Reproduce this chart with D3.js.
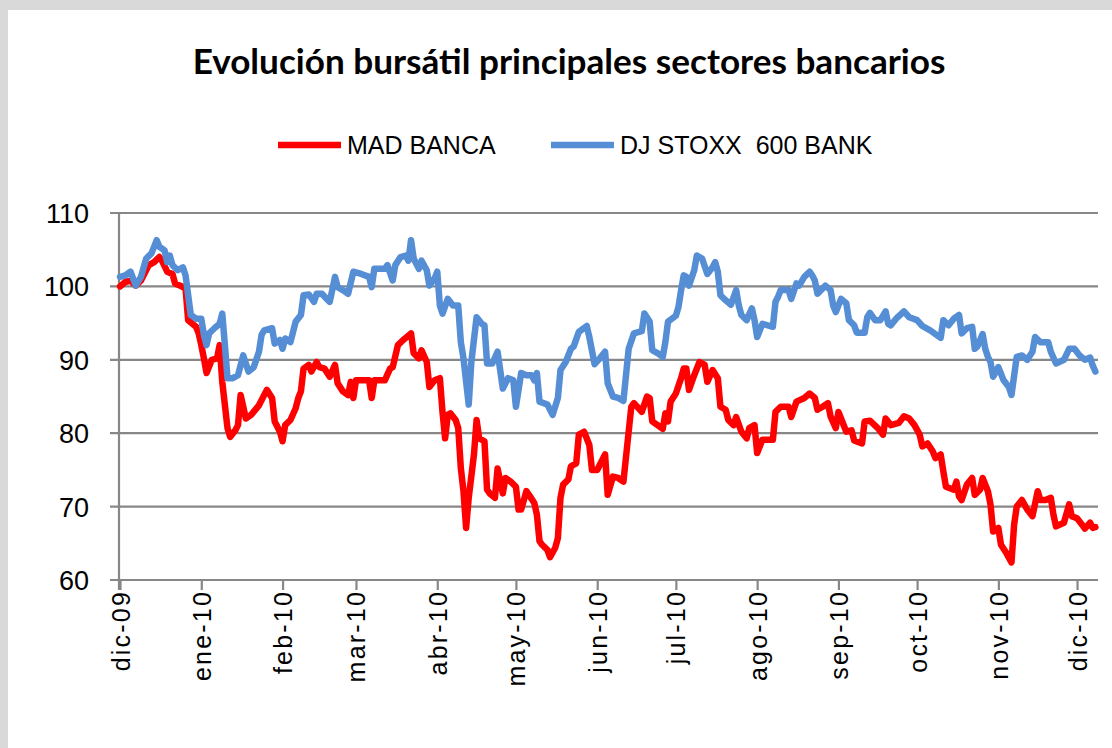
<!DOCTYPE html>
<html><head><meta charset="utf-8">
<script src="https://cdn.jsdelivr.net/npm/d3@7"></script>
<style>
html,body{margin:0;padding:0;background:#d9d9d9;}
svg{display:block;}
text{font-family:"Liberation Sans",Arial,sans-serif;fill:#000;}
</style></head>
<body>
<svg id="chart" width="1112" height="748"></svg>
<script>
// ---- data (days counted from 1 Dec 2009) ----
const titleText = "Evolución bursátil principales sectores bancarios";
const seriesNames = ["MAD BANCA", "DJ STOXX  600 BANK"];
const seriesColors = ["#ff0000", "#558ed5"];
const yTicks = [60, 70, 80, 90, 100, 110];
const monthLabels = ["dic-09","ene-10","feb-10","mar-10","abr-10","may-10","jun-10","jul-10","ago-10","sep-10","oct-10","nov-10","dic-10"];

const madDays = [0,2,4,6,8,11,13,15,16,18,20,21,23,25,26,29,30,31,32,33,35,37,38,39,41,42,44,45,46,48,50,53,56,58,59,61,62,63,65,67,68,69,70,72,73,75,76,78,80,82,83,85,87,88,89,90,95,96,97,101,103,104,106,108,111,112,114,115,117,118,120,122,123,124,125,126,128,129,130,131,132,133,135,136,137,139,140,141,143,144,146,147,149,151,152,153,155,156,158,159,160,161,163,164,166,167,168,169,171,172,174,175,177,179,180,182,185,186,188,190,192,194,195,196,199,201,202,203,205,207,208,209,210,212,214,215,216,217,219,221,223,224,226,228,229,231,232,234,235,237,239,240,242,243,245,249,250,252,255,256,258,261,263,265,266,268,270,271,273,274,275,277,279,280,283,284,286,289,291,292,294,297,299,301,303,305,306,308,310,311,313,314,315,318,319,320,321,323,325,326,328,329,331,332,333,335,336,338,340,341,342,344,346,348,350,351,353,355,356,357,360,362,363,365,367,368,370,371,372];
const madValues = [100.0,100.6,100.8,100.1,100.8,102.9,103.3,104.0,103.5,102.0,101.7,100.4,100.1,99.7,95.4,94.5,93.6,92.0,90.2,88.2,90.0,90.2,92.0,87.0,80.7,79.5,80.4,81.1,85.2,82.0,82.5,83.8,85.9,84.8,81.6,80.2,78.9,81.1,81.8,83.4,84.8,85.7,88.8,89.3,88.4,89.7,89.0,88.8,87.7,89.3,86.8,85.7,85.2,87.0,84.8,87.2,87.2,84.8,87.2,87.2,88.8,89.0,92.0,92.7,93.6,90.9,90.2,91.3,89.7,86.3,87.2,87.5,82.9,79.3,82.5,82.7,81.8,80.7,75.2,72.1,67.1,71.2,77.1,81.8,79.3,78.9,72.3,71.8,71.2,75.2,71.8,73.9,73.4,72.7,69.6,69.6,72.1,71.6,70.5,68.9,65.3,64.8,64.1,63.1,64.4,65.7,71.2,73.0,73.7,75.5,75.9,79.8,80.2,78.4,75.0,75.0,77.1,71.6,74.1,73.9,73.4,80.2,83.6,84.1,82.9,85.0,84.8,81.6,81.1,80.6,82.7,81.6,84.3,85.4,87.5,88.8,88.8,85.9,87.9,89.7,89.3,87.0,88.6,87.5,83.6,83.2,81.8,81.1,82.2,80.2,79.3,80.7,81.1,77.3,79.1,79.1,82.9,83.6,83.6,82.2,84.3,84.8,85.4,84.8,83.2,83.6,84.1,82.3,80.7,82.9,82.0,80.2,80.4,79.0,78.6,81.6,81.7,80.7,79.8,82.0,81.1,81.4,82.3,82.0,81.1,79.8,78.2,78.6,77.5,76.6,77.1,74.8,72.7,72.3,73.4,71.4,70.9,73.0,73.9,71.6,72.3,73.9,72.1,70.3,66.6,67.1,64.8,63.7,62.4,67.5,70.0,70.9,69.6,68.7,72.1,70.9,70.9,71.2,68.9,67.3,67.8,70.3,68.7,68.4,67.5,67.0,67.8,67.1,67.2];

const stoxxDays = [0,2,4,6,8,10,12,14,15,17,18,19,20,22,24,25,27,29,31,32,33,34,36,38,39,40,41,43,45,47,49,51,53,54,55,58,59,61,62,63,65,67,69,70,72,74,75,77,78,80,82,83,85,87,89,92,95,96,97,101,102,104,105,107,109,110,111,112,114,115,117,118,120,121,122,123,125,127,129,130,131,133,134,136,138,139,140,142,144,146,148,150,151,153,155,157,158,159,160,163,165,167,168,170,172,173,175,178,179,181,183,185,186,188,190,192,194,196,199,200,202,203,205,207,208,209,212,213,214,215,216,217,219,220,222,224,226,227,228,229,231,233,235,236,237,239,241,242,243,245,249,250,251,252,255,256,258,259,261,263,264,265,266,269,271,272,273,275,277,278,280,281,284,285,286,288,290,292,293,294,296,299,301,304,306,309,311,313,314,316,318,320,321,323,325,326,327,329,330,331,332,333,335,337,339,340,342,344,346,348,349,351,354,355,357,360,362,364,366,368,370,371,372];
const stoxxValues = [101.3,101.5,102.0,100.1,101.3,103.8,104.5,106.3,105.4,104.9,103.3,104.2,102.9,102.2,102.6,101.5,96.1,95.6,95.6,93.4,92.0,93.6,94.3,94.9,96.3,92.0,87.5,87.5,87.9,90.6,88.4,89.0,91.1,93.4,94.0,94.3,92.2,92.7,91.5,92.9,92.4,95.2,96.1,98.8,98.9,97.9,99.0,99.0,98.6,97.9,101.3,99.9,99.5,99.0,102.0,101.7,101.3,99.9,102.4,102.4,102.9,100.8,102.9,104.0,104.2,103.5,106.3,103.8,102.4,103.5,102.2,100.1,101.1,102.0,97.4,96.3,98.3,97.4,97.4,92.4,90.2,83.9,89.7,95.8,94.9,94.7,89.5,89.5,91.1,86.1,87.5,87.2,83.6,88.2,87.9,87.9,87.2,88.2,84.3,83.9,82.5,84.8,88.6,89.7,91.5,91.8,93.8,94.6,93.1,89.4,90.2,91.1,86.8,85.0,84.8,84.4,91.5,93.6,93.9,96.3,95.2,91.3,90.9,90.4,92.4,95.2,96.0,97.2,99.5,101.5,101.3,100.1,102.2,104.2,103.8,101.7,102.6,103.3,102.0,98.8,98.1,97.5,99.5,97.4,96.1,95.4,97.0,95.4,93.1,94.9,94.5,97.9,98.6,99.5,99.5,98.3,100.4,100.1,101.3,102.0,101.5,100.8,99.0,100.1,99.5,97.4,96.5,98.3,97.7,95.4,94.7,93.7,93.7,95.8,96.4,95.4,95.4,96.6,94.9,94.7,95.6,96.6,95.8,95.4,94.6,94.0,93.5,93.0,95.4,94.7,95.6,96.1,93.6,94.3,94.5,91.5,91.8,93.5,91.5,90.4,89.7,87.7,89.0,87.2,86.3,85.2,90.4,90.6,90.0,91.1,93.1,92.4,92.4,91.1,89.5,90.0,91.5,91.5,90.6,90.0,90.3,89.2,88.4];

// ---- chart ----
const svg = d3.select("#chart");
const startDate = new Date(2009, 11, 1);
const toDate = d => d3.timeDay.offset(startDate, d);

const plot = {left: 120, right: 1098, top: 213, bottom: 580};
const x = d3.scaleTime().domain([startDate, toDate(373)]).range([plot.left, plot.right]);
const y = d3.scaleLinear().domain([60, 110]).range([plot.bottom, plot.top]);

svg.append("rect").attr("x", 8).attr("y", 10).attr("width", 1200).attr("height", 800).attr("fill", "#fff");

// title
const title = svg.append("text").attr("x", 569).attr("y", 74).attr("text-anchor", "middle")
  .style("font-family", "Lato, 'Open Sans', sans-serif").style("font-weight", "bold").style("font-size", "32px")
  .text(titleText);
const tw = title.node().getComputedTextLength();
title.style("font-size", (32 * 753 / tw).toFixed(2) + "px");

// gridlines
const grid = svg.append("g");
grid.selectAll("line").data(yTicks).join("line")
  .attr("x1", plot.left - 10).attr("x2", plot.right)
  .attr("y1", d => y(d)).attr("y2", d => y(d))
  .attr("stroke", "#878787").attr("stroke-width", 2.2);

// y axis labels
svg.append("g").selectAll("text").data(yTicks).join("text")
  .attr("x", 89).attr("y", d => y(d) + 10).attr("text-anchor", "end")
  .style("font-size", "27px").text(d => d);

// y axis line
svg.append("line").attr("x1", plot.left - 1).attr("x2", plot.left - 1)
  .attr("y1", plot.top).attr("y2", plot.bottom + 10)
  .attr("stroke", "#878787").attr("stroke-width", 2.2);

// x axis ticks (month starts)
const monthTicks = d3.timeMonth.range(startDate, toDate(366));
const xAxis = d3.axisBottom(x).tickValues(monthTicks).tickSize(10).tickFormat((d, i) => monthLabels[i]);
const gx = svg.append("g").attr("transform", `translate(0,${plot.bottom})`).call(xAxis);
gx.select(".domain").remove();
gx.selectAll(".tick line").attr("stroke", "#878787").attr("stroke-width", 2.2);
gx.selectAll(".tick text")
  .attr("transform", "rotate(-90)")
  .attr("x", -10).attr("y", 0).attr("dy", "0.36em")
  .attr("text-anchor", "end")
  .style("font-family", "'Liberation Sans', Arial, sans-serif")
  .style("font-size", "25px").style("letter-spacing", "2.2px").attr("fill", "#000");

// series lines
const line = d3.line().x(d => x(toDate(d[0]))).y(d => y(d[1]));
const series = [
  d3.zip(madDays, madValues),
  d3.zip(stoxxDays, stoxxValues)
];
svg.append("g").selectAll("path").data(series).join("path")
  .attr("d", line).attr("fill", "none")
  .attr("stroke", (d, i) => seriesColors[i]).attr("stroke-width", 6.5)
  .attr("stroke-linejoin", "round").attr("stroke-linecap", "round");

// legend
const legendItems = [{x: 278, tx: 347}, {x: 551, tx: 620}];
const lg = svg.append("g");
legendItems.forEach((it, i) => {
  lg.append("line").attr("x1", it.x).attr("x2", it.x + 63).attr("y1", 145).attr("y2", 145)
    .attr("stroke", seriesColors[i]).attr("stroke-width", 6.5);
  lg.append("text").attr("x", it.tx).attr("y", 154).style("font-size", "25px")
    .style("white-space", "pre").text(seriesNames[i]);
});
</script>
</body></html>
